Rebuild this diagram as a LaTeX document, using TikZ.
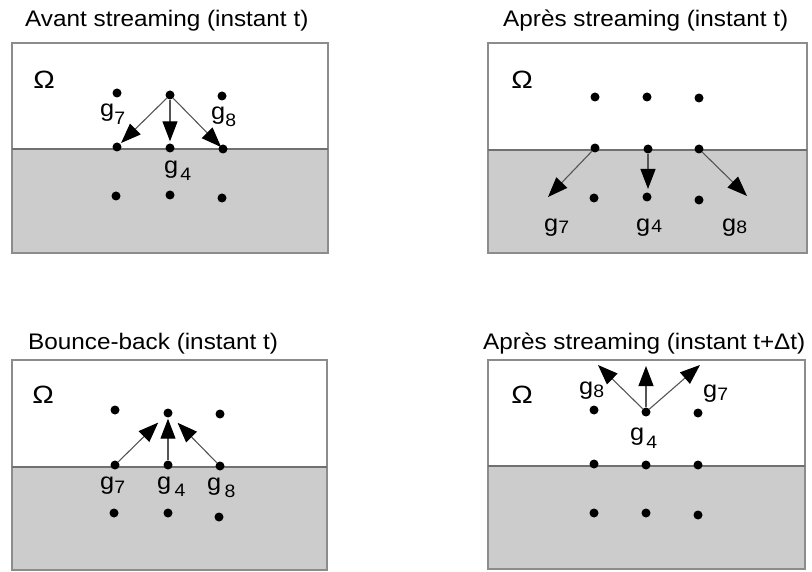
\documentclass[tikz,border=0pt]{standalone}
\usepackage{fontspec}
\setmainfont{Liberation Sans}
\usetikzlibrary{arrows.meta}
\definecolor{wallgray}{HTML}{CCCCCC}
\definecolor{edgegray}{HTML}{8C8C8C}
\definecolor{linegray}{HTML}{555555}
\newcommand{\glab}[3]{g\kern#3pt\raisebox{-#2pt}{\fontsize{18}{18}\selectfont #1}}
\begin{document}
\begin{tikzpicture}[x=1pt,y=-1pt,
  dot/.style={circle,fill=black,inner sep=0pt,minimum size=9pt},
  ttl/.style={anchor=base west,inner sep=0pt,xscale=1.08,font=\fontsize{22.5}{27}\selectfont},
  lab/.style={anchor=base west,inner sep=0pt,xscale=1.08,font=\fontsize{23.5}{27}\selectfont},
  omg/.style={inner sep=0pt,xscale=1.15,font=\fontsize{25}{28}\selectfont},
  arr/.style={draw=linegray,line width=1.1pt,-{Triangle[length=20pt,width=15pt,color=black]}},
  solid/.style={fill=wallgray},
  frame/.style={draw=edgegray,line width=1.3pt},
  wall/.style={draw=edgegray!80!black,line width=1.3pt}]
\useasboundingbox (0,0) rectangle (812,572);

% ---------- Panel 1: Avant streaming ----------
\fill[solid] (12,149) rectangle (328,253);
\draw[frame] (12,43) rectangle (328,253);
\draw[wall] (12,149) -- (328,149);
\node[ttl] (t1) at (25,27) {Avant streaming (instant t)};
\node[omg] (o1) at (44,80) {Ω};
\node[dot] (a11) at (117,93) {};
\node[dot] (a12) at (170,95) {};
\node[dot] (a13) at (222,96) {};
\node[dot] (a21) at (117,147) {};
\node[dot] (a22) at (170,148) {};
\node[dot] (a23) at (223,149) {};
\node[dot] (a31) at (116,196) {};
\node[dot] (a32) at (170,195) {};
\node[dot] (a33) at (222,198) {};
\draw[arr,shorten >=1pt] (a12) -- (a21);
\draw[arr,shorten >=2pt] (a12) -- (a22);
\draw[arr,shorten >=-2pt] (a12) -- (a23);
\node[lab] (l17) at (100,117) {\glab{7}{8}{0}};
\node[lab] (l18) at (211,120) {\glab{8}{7}{0}};
\node[lab] (l14) at (164,174) {\glab{4}{7}{2}};

% ---------- Panel 2: Apres streaming (t) ----------
\fill[solid] (488,150) rectangle (807,253);
\draw[frame] (488,43) rectangle (807,253);
\draw[wall] (488,150) -- (807,150);
\node[ttl] (t2) at (503,27) {Après streaming (instant t)};
\node[omg] (o2) at (522,80) {Ω};
\node[dot] (b11) at (595,97) {};
\node[dot] (b12) at (647,97) {};
\node[dot] (b13) at (699,98) {};
\node[dot] (b21) at (595,148) {};
\node[dot] (b22) at (648,149) {};
\node[dot] (b23) at (699,149) {};
\node[dot] (b31) at (594,198) {};
\node[dot] (b32) at (647,197) {};
\node[dot] (b33) at (699,200) {};
\coordinate (c7) at (548,197);
\coordinate (c4) at (648,189);
\coordinate (c8) at (747,196);
\draw[arr] (b21) -- (c7);
\draw[arr] (b22) -- (c4);
\draw[arr] (b23) -- (c8);
\node[lab] (l27) at (544,232) {\glab{7}{2}{0}};
\node[lab] (l24) at (636,232) {\glab{4}{1}{1}};
\node[lab] (l28) at (722,232) {\glab{8}{2}{0}};

% ---------- Panel 3: Bounce-back ----------
\fill[solid] (12,467) rectangle (327,570);
\draw[frame] (12,360) rectangle (327,570);
\draw[wall] (12,467) -- (327,467);
\node[ttl] (t3) at (28,349) {Bounce-back (instant t)};
\node[omg] (o3) at (43,395) {Ω};
\node[dot] (d11) at (115,410) {};
\node[dot] (d12) at (168,413) {};
\node[dot] (d13) at (220,414) {};
\node[dot] (d21) at (115,465) {};
\node[dot] (d22) at (168,465) {};
\node[dot] (d23) at (220,466) {};
\node[dot] (d31) at (114,513) {};
\node[dot] (d32) at (168,513) {};
\node[dot] (d33) at (219,517) {};
\draw[arr,shorten >=9pt] (d21) -- (d12);
\draw[arr,shorten >=1pt] (d22) -- (d12);
\draw[arr,shorten >=9pt] (d23) -- (d12);
\node[lab] (l37) at (100,489) {\glab{7}{4}{0}};
\node[lab] (l34) at (157,489) {\glab{4}{7}{3}};
\node[lab] (l38) at (207,490) {\glab{8}{7}{3}};

% ---------- Panel 4: Apres streaming (t+dt) ----------
\fill[solid] (488,466) rectangle (805,569);
\draw[frame] (488,360) rectangle (805,569);
\draw[wall] (488,466) -- (805,466);
\node[ttl] (t4) at (483,349) {Après streaming (instant t+Δt)};
\node[omg] (o4) at (522,395) {Ω};
\node[dot] (e11) at (594,410) {};
\node[dot] (e12) at (646,412) {};
\node[dot] (e13) at (698,413) {};
\node[dot] (e21) at (594,464) {};
\node[dot] (e22) at (646,465) {};
\node[dot] (e23) at (698,465) {};
\node[dot] (e31) at (594,513) {};
\node[dot] (e32) at (646,513) {};
\node[dot] (e33) at (698,515) {};
\coordinate (f8) at (598,365);
\coordinate (f4) at (646,366);
\coordinate (f7) at (700,365);
\draw[arr] (e12) -- (f8);
\draw[arr] (e12) -- (f4);
\draw[arr] (e12) -- (f7);
\node[lab] (l48) at (579,394) {\glab{8}{3}{0}};
\node[lab] (l47) at (703,397) {\glab{7}{3}{0}};
\node[lab] (l44) at (630,440) {\glab{4}{8}{2}};
\end{tikzpicture}
\end{document}
